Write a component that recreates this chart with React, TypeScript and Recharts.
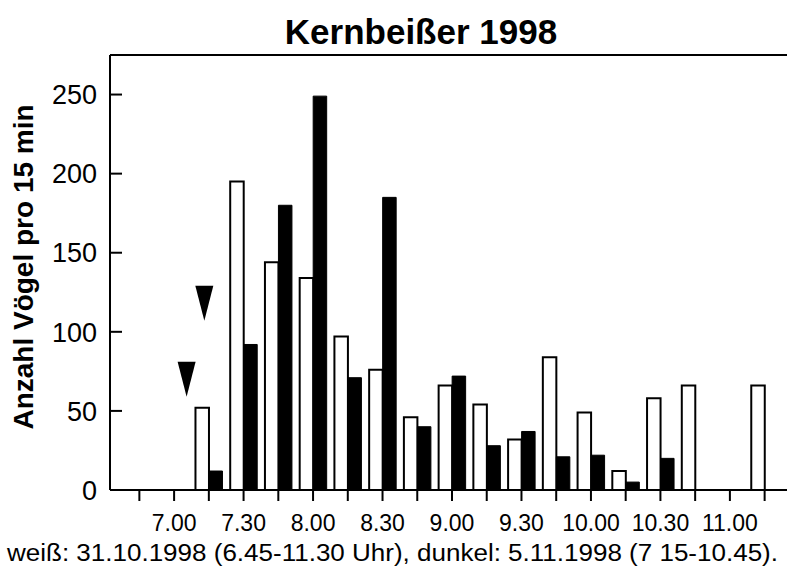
import React from "react";
import { BarChart, Bar, XAxis, YAxis, ReferenceDot, Customized } from "recharts";

// 15-min slots, bars sit on the slot start
const slots = ["6.45", "7.00", "7.15", "7.30", "7.45", "8.00", "8.15", "8.30", "8.45", "9.00",
    "9.15", "9.30", "9.45", "10.00", "10.15", "10.30", "10.45", "11.00", "11.15"];
// weiß: 31.10.1998
const white = [0, 0, 52, 195, 144, 134, 97, 76, 46, 66, 54, 32, 84, 49, 12, 58, 66, 0, 66];
// dunkel: 5.11.1998
const dark = [null, null, 12, 92, 180, 249, 71, 185, 40, 72, 28, 37, 21, 22, 5, 20, null, null, null];
const yTicks = [0, 50, 100, 150, 200, 250];
// arrow markers (slot position, value at the tip)
const arrowPos = [1.36, 1.87];
const arrowTip = [59, 107];

const data = slots.map((s, i) => ({ slot: s, idx: i, white: white[i], dark: dark[i] }));

const font = "'Liberation Sans', Arial, Helvetica, sans-serif";

const XTick = (props: any) => {
    const { x, y, payload } = props;
    const v: string = payload.value;
    const show = v.endsWith(".00") || v.endsWith(".30");
    return (
        <g>
            <line x1={x} x2={x} y1={490} y2={501} stroke="#000" strokeWidth={2} />
            {show && (
                <text x={x} y={y} dy="0.71em" textAnchor="middle" fontSize={23} fontFamily={font} fill="#000">
                    {v}
                </text>
            )}
        </g>
    );
};

const YTick = (props: any) => {
    const { x, y, payload } = props;
    return (
        <g>
            {payload.value !== 0 && <line x1={x} x2={x + 12} y1={y} y2={y} stroke="#000" strokeWidth={2} />}
            <text x={x - 13} y={y} dy="0.36em" textAnchor="end" fontSize={27} fontFamily={font} fill="#000">
                {payload.value}
            </text>
        </g>
    );
};

const Arrow = (props: any) => {
    const { cx, cy } = props;
    return <polygon points={`${cx - 9},${cy - 35} ${cx + 9},${cy - 35} ${cx},${cy}`} fill="#000" />;
};

const Texts = () => (
    <g fontFamily={font} fill="#000">
        <text x={421} y={44} textAnchor="middle" fontSize={35} fontWeight="bold">Kernbeißer 1998</text>
        <text transform="translate(33,267) rotate(-90)" textAnchor="middle" fontSize={28} fontWeight="bold">
            Anzahl Vögel pro 15 min
        </text>
        <text x={7} y={561} fontSize={23} textLength={771} lengthAdjust="spacingAndGlyphs">
            weiß: 31.10.1998 (6.45-11.30 Uhr), dunkel: 5.11.1998 (7 15-10.45).
        </text>
    </g>
);

export default function App() {
    return (
        <div style={{ position: "absolute", left: 0, top: 0, background: "#fff" }}>
            <BarChart
                width={787}
                height={567}
                data={data}
                margin={{ top: 45, right: 0, bottom: 47, left: 50 }}
                barGap={0}
                barSize={13.5}
            >
                <XAxis
                    xAxisId="cat"
                    dataKey="slot"
                    interval={0}
                    height={30}
                    padding={{ left: 12, right: 5 }}
                    axisLine={{ stroke: "#000", strokeWidth: 2 }}
                    tickLine={false}
                    tickSize={11}
                    tickMargin={14}
                    tick={XTick}
                />
                <XAxis
                    xAxisId="num"
                    dataKey="idx"
                    type="number"
                    domain={[-0.5, 18.5]}
                    padding={{ left: 12, right: 5 }}
                    hide
                />
                <XAxis
                    xAxisId="top"
                    dataKey="slot"
                    orientation="top"
                    height={10}
                    tick={false}
                    tickLine={false}
                    axisLine={{ stroke: "#000", strokeWidth: 2 }}
                />
                <YAxis
                    domain={[0, 275]}
                    ticks={yTicks}
                    width={60}
                    tickSize={0}
                    tickMargin={0}
                    tickLine={false}
                    axisLine={{ stroke: "#000", strokeWidth: 2 }}
                    tick={YTick}
                />
                <Bar xAxisId="cat" dataKey="white" fill="#fff" stroke="#000" strokeWidth={2} isAnimationActive={false} />
                <Bar xAxisId="cat" dataKey="dark" fill="#000" stroke="#000" strokeWidth={1} isAnimationActive={false} />
                {arrowPos.map((p, i) => (
                    <ReferenceDot key={i} xAxisId="num" x={p} y={arrowTip[i]} shape={Arrow} />
                ))}
                <Customized component={Texts} />
            </BarChart>
        </div>
    );
}
